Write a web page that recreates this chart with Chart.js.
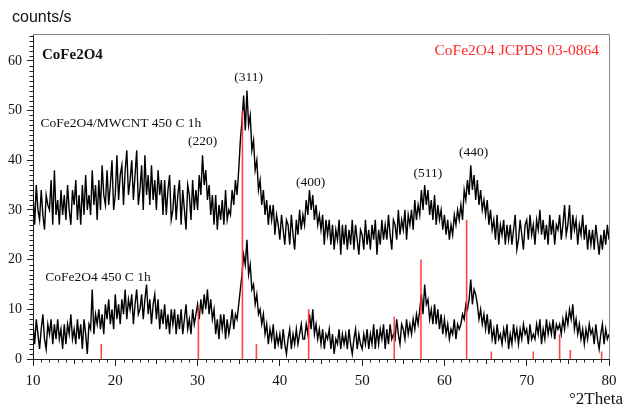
<!DOCTYPE html>
<html lang="en">
<head>
    <meta charset="UTF-8">
    <title>CoFe2O4 XRD</title>
    <style>
        body { margin: 0; background: #fff; }
        #wrap { width: 627px; height: 409px; }
    </style>
</head>
<body>
    <div id="wrap">
        <canvas id="xrd" width="627" height="409"></canvas>
    </div>
    <script src="https://cdn.jsdelivr.net/npm/chart.js"></script>
    <script>
        // scan grid (deg 2Theta)
        const start2Theta = 10;
        const step2Theta = 0.2;

        // CoFe2O4/MWCNT 450 C 1h, counts/s (5 per degree)
        const mwcntCounts = [
            33,27,35,30,28, 34,29,26,33,31, 30,36,27,38,29, 32,27,34,29,33, 28,35,30,27,34,
            31,36,28,33,27, 35,29,37,30,33, 29,38,31,35,28, 36,30,39,33,31, 38,31,35,40,30,
            33,41,32,37,39, 31,38,42,33,36, 40,32,37,42,31, 34,39,30,41,33, 37,31,39,32,36,
            30,38,33,36,29, 36,29,34,37,28, 30,35,28,33,36, 27,34,30,26,35, 33,28,36,30,34,
            30,37,33,41,35, 38,32,35,29,33, 27,33,26,31,28, 32,27,34,28,30, 29,34,31,36,33,
            38,44,48,53,46, 54,47,49,42,44, 38,40,34,36,31, 34,29,32,27,31, 28,31,25,29,27,
            24,29,26,23,28, 27,23,29,25,22, 28,25,30,26,29, 27,32,29,34,30, 33,28,31,27,29,
            26,29,23,28,25, 28,23,27,22,26, 24,28,21,27,23, 27,22,26,23,28, 22,27,24,21,26,
            25,22,28,23,26, 22,27,24,28,21, 26,23,28,24,27, 24,29,25,22,28, 27,24,30,25,28,
            26,30,24,29,27, 30,26,32,28,31, 29,34,30,35,31, 34,29,32,28,33, 27,31,28,30,26,
            29,25,28,24,27, 25,29,27,30,28, 31,28,34,32,36, 33,39,34,37,32, 36,31,34,30,32,
            29,32,27,30,26, 28,24,29,23,27, 25,28,23,27,24, 27,23,26,29,22, 24,28,25,22,27,
            28,24,29,25,27, 23,28,26,30,25, 28,24,27,23,29, 25,28,23,27,26, 29,24,27,31,25,
            27,31,24,29,26, 28,23,27,25,29, 24,27,22,26,23, 26,22,27,24,21, 25,22,26,23,27,
            24
        ];

        // CoFe2O4 450 C 1h
        const bareCounts = [
            7,3,8,5,2, 6,9,4,2,7, 5,8,3,7,4, 8,4,6,2,7, 3,7,5,9,4,
            6,3,8,4,7, 2,8,5,1,7, 6,14,5,9,7, 10,6,9,5,11, 8,12,7,10,6,
            13,8,11,7,12, 9,14,8,12,10, 13,7,11,14,9, 10,13,8,12,15, 9,12,7,11,13,
            8,12,6,10,7, 11,6,9,5,10, 7,10,5,9,6, 10,5,8,11,6, 8,5,10,7,9,
            11,8,12,9,13, 10,14,9,12,8, 10,5,8,4,9, 6,9,4,8,5, 7,10,6,9,8,
            11,14,17,21,19, 24,17,19,14,15, 11,13,9,10,7, 9,5,7,3,6, 4,7,2,5,3,
            5,2,6,3,1, 4,6,2,5,3, 6,3,5,7,4, 4,7,5,9,6, 10,5,7,4,6,
            3,6,2,5,4, 6,2,5,1,4, 3,6,2,5,3, 5,2,6,3,1, 4,6,2,5,3,
            2,5,3,6,2, 5,3,7,2,6, 3,6,4,7,2, 6,3,7,4,5, 4,8,5,3,7,
            6,4,8,5,7, 5,8,6,9,7, 10,13,9,15,11, 12,8,10,7,11, 7,10,6,9,5,
            8,5,7,4,6, 5,8,4,7,6, 7,9,8,11,10, 12,16,11,14,13, 11,8,10,7,9,
            6,9,5,8,4, 6,3,7,4,5, 3,6,4,7,2, 5,3,7,4,6, 3,6,4,7,5,
            6,3,7,4,5, 4,7,5,8,3, 6,4,8,5,7, 5,8,4,7,6, 7,5,8,6,9,
            7,10,8,11,6, 8,5,7,4,6, 3,6,4,7,5, 6,3,7,4,2, 5,7,3,6,4,
            5
        ];

        // JCPDS 03-0864 reference lines
        const refPeaks2Theta = [18.3, 30.1, 35.45, 37.15, 43.5, 53.9, 57.15, 62.7, 65.7, 70.8, 74.0, 75.3, 79.1];
        const refPeakHeights = [3, 10.5, 50, 3, 10, 8.5, 20, 28, 1.5, 1.5, 5, 1.8, 1.5];

        const hklLabels = ["(220)", "(311)", "(400)", "(511)", "(440)"];
        const hklPos2Theta = [30.6, 36.2, 43.75, 58.0, 63.55];
        const hklPosCounts = [43.1, 56.0, 34.9, 36.7, 40.9];

        const xTicks = [10, 20, 30, 40, 50, 60, 70, 80];
        const yTicks = [0, 10, 20, 30, 40, 50, 60];

        function toPoints(counts) {
            let pts = [];
            for (let i = 0; i < counts.length; i++) {
                pts.push({ x: start2Theta + i * step2Theta, y: counts[i] });
            }
            return pts;
        }

        let stickPts = [];
        for (let i = 0; i < refPeaks2Theta.length; i++) {
            stickPts.push({ x: refPeaks2Theta[i], y: 0 });
            stickPts.push({ x: refPeaks2Theta[i], y: refPeakHeights[i] });
            stickPts.push({ x: refPeaks2Theta[i], y: null });
        }

        const serif = "'Liberation Serif', 'DejaVu Serif', serif";
        const sans = "'Liberation Sans', Arial, sans-serif";

        // minor ticks, frame and the text on the plot
        const decoPlugin = {
            id: "deco",
            afterDraw(chart) {
                const ctx = chart.ctx;
                const xs = chart.scales.x;
                const ys = chart.scales.y;
                const a = chart.chartArea;
                ctx.save();
                ctx.strokeStyle = "#222";
                ctx.lineWidth = 1;
                ctx.beginPath();
                for (let v = 1; v < 66; v++) {
                    if (v % 10 === 0) continue;
                    let py = Math.round(ys.getPixelForValue(v)) + 0.5;
                    ctx.moveTo(a.left - 3.5, py);
                    ctx.lineTo(a.left, py);
                }
                for (let v = 11; v < 80; v++) {
                    if (v % 10 === 0) continue;
                    let px = Math.round(xs.getPixelForValue(v)) + 0.5;
                    ctx.moveTo(px, a.bottom);
                    ctx.lineTo(px, a.bottom + (v % 5 === 0 ? 5 : 3.5));
                }
                ctx.stroke();

                // top / right frame
                ctx.strokeStyle = "#8a8a8a";
                ctx.beginPath();
                ctx.moveTo(a.left, a.top + 0.5);
                ctx.lineTo(a.right + 0.5, a.top + 0.5);
                ctx.lineTo(a.right + 0.5, a.bottom);
                ctx.stroke();

                ctx.fillStyle = "#111";
                ctx.textBaseline = "alphabetic";
                ctx.font = "16px " + sans;
                ctx.textAlign = "left";
                ctx.fillText("counts/s", 12, 22);

                ctx.font = "bold 15px " + serif;
                ctx.fillText("CoFe2O4", a.left + 9, 59);

                ctx.font = "17px " + serif;
                ctx.textAlign = "right";
                ctx.fillText("\u00b02Theta", 623, 404);

                ctx.fillStyle = "#ff2a2a";
                ctx.font = "15.5px " + serif;
                ctx.fillText("CoFe2O4 JCPDS 03-0864", a.right - 10, 55);

                ctx.fillStyle = "#111";
                ctx.font = "13.5px " + serif;
                ctx.textAlign = "center";
                for (let i = 0; i < hklLabels.length; i++) {
                    ctx.fillText(hklLabels[i], xs.getPixelForValue(hklPos2Theta[i]), ys.getPixelForValue(hklPosCounts[i]));
                }
                ctx.textAlign = "left";
                ctx.fillText("CoFe2O4/MWCNT 450 C 1h", xs.getPixelForValue(10.9), ys.getPixelForValue(46.7));
                ctx.fillText("CoFe2O4 450 C 1h", xs.getPixelForValue(11.5), ys.getPixelForValue(15.6));
                ctx.restore();
            }
        };

        new Chart(document.getElementById("xrd"), {
            type: "line",
            data: {
                datasets: [
                    {
                        label: "CoFe2O4 JCPDS 03-0864",
                        data: stickPts,
                        borderColor: "rgba(255,60,60,0.95)",
                        borderWidth: 1.6,
                        pointRadius: 0,
                        spanGaps: false
                    },
                    {
                        label: "CoFe2O4/MWCNT 450 C 1h",
                        data: toPoints(mwcntCounts),
                        borderColor: "#000",
                        borderWidth: 1.4,
                        pointRadius: 0,
                        tension: 0
                    },
                    {
                        label: "CoFe2O4 450 C 1h",
                        data: toPoints(bareCounts),
                        borderColor: "#000",
                        borderWidth: 1.4,
                        pointRadius: 0,
                        tension: 0
                    }
                ]
            },
            options: {
                responsive: false,
                animation: false,
                layout: { padding: { top: 34, right: 18, left: 0, bottom: 0 } },
                plugins: {
                    legend: { display: false },
                    tooltip: { enabled: false }
                },
                scales: {
                    x: {
                        type: "linear",
                        min: 10,
                        max: 80,
                        afterFit: (s) => { s.height = 50; },
                        afterBuildTicks: (s) => { s.ticks = xTicks.map(v => ({ value: v })); },
                        grid: { drawOnChartArea: false, tickLength: 7, color: "#222" },
                        border: { color: "#222", width: 1 },
                        ticks: { color: "#111", padding: 6, maxRotation: 0, font: { family: serif, size: 15 } }
                    },
                    y: {
                        min: 0,
                        max: 65.4,
                        afterFit: (s) => { s.width = 33; },
                        afterBuildTicks: (s) => { s.ticks = yTicks.map(v => ({ value: v })); },
                        grid: { drawOnChartArea: false, tickLength: 6, color: "#222" },
                        border: { color: "#222", width: 1 },
                        ticks: { color: "#111", padding: 5, font: { family: serif, size: 14 } }
                    }
                }
            },
            plugins: [decoPlugin]
        });
    </script>
</body>
</html>
